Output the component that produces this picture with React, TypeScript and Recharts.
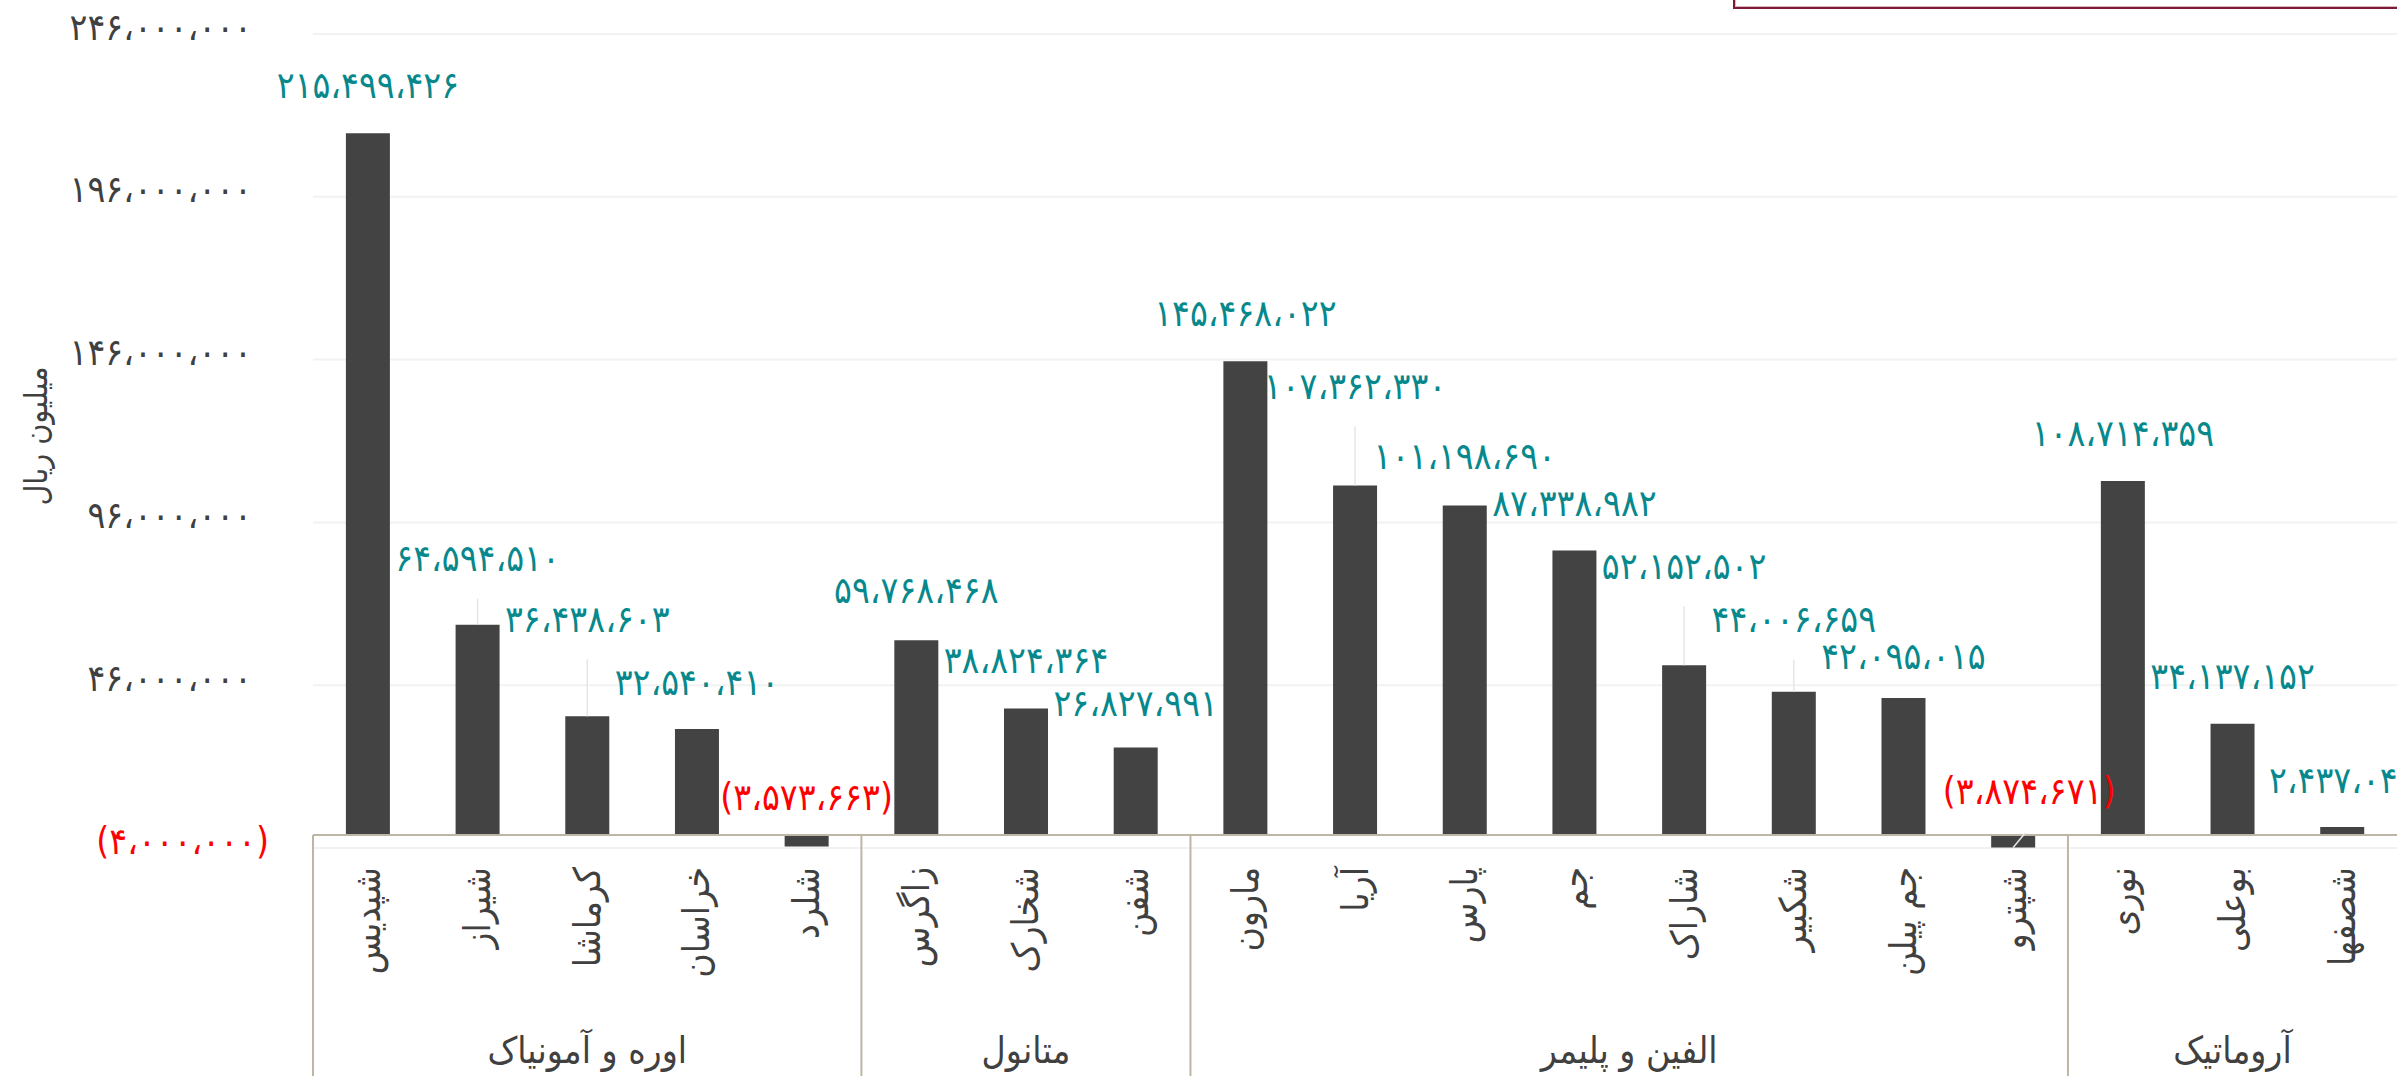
import React from 'react';
import { BarChart, Bar, XAxis, YAxis, CartesianGrid, LabelList, ReferenceLine } from 'recharts';

// ---------- data ----------
const names = ['شپدیس', 'شیراز', 'کرماشا', 'خراسان', 'شلرد', 'زاگرس', 'شخارک', 'شفن', 'مارون', 'آریا', 'پارس', 'جم', 'شاراک', 'شکبیر', 'جم پیلن', 'شپترو', 'نوری', 'بوعلی', 'شصفها'];
const values = [215499426, 64594510, 36438603, 32540410, -3573663, 59768468, 38824364, 26827991, 145468022, 107362330, 101198690, 87338982, 52152502, 44006659, 42095015, -3874671, 108714359, 34137152, 2437045];
const groupNames = ['اوره و آمونیاک', 'متانول', 'الفین و پلیمر', 'آروماتیک'];
const groupSizes = [5, 3, 8, 3];
const yTicks = [-4000000, 46000000, 96000000, 146000000, 196000000, 246000000];
const yTitle = 'میلیون ریال';
// label placement (px) per bar: distance above bar top, and sideways shift
const labelGap = [48, 66, 97, 47, 37, 50, 48, 44, 48, 99, 49, 47, 99, 72, 41, 43, 48, 47, 47];
const labelShift = [0, 0, 0, 0, 0, 0, 0, 0, 0, 0, 0, 0, 0, 0, 0, 16, 0, 0, 0];

const data = names.map((name, i) => ({ name, value: values[i] }));

// ---------- layout ----------
const W = 2397;
const H = 1076;
const Y_W = 313;
const TOP = 34;
const X_H = 228;
const PLOT_W = W - Y_W;
const PLOT_H = H - TOP - X_H;
const BAND = PLOT_W / names.length;
const Y_MIN = -4000000;
const Y_MAX = 246000000;
const ZERO_OFF = (PLOT_H * (0 - Y_MIN)) / (Y_MAX - Y_MIN);

const FONT = "'DejaVu Sans Condensed', 'DejaVu Sans', sans-serif";
const TEXT = '#404040';
const TEAL = '#06888c';
const RED = '#ff0000';
const LINE = '#bdb5a6';

const fa = (n: number) => {
  const s = Math.abs(n)
    .toLocaleString('en-US')
    .replace(/\d/g, (d) => '۰۱۲۳۴۵۶۷۸۹'[+d])
    .replace(/,/g, '،');
  return n < 0 ? `(${s})` : s;
};

const groupStart: number[] = [];
{
  let acc = 0;
  groupSizes.forEach((s) => {
    groupStart.push(acc);
    acc += s;
  });
}

const YTick = (props: any) => {
  const { y, payload } = props;
  const v = payload.value as number;
  return (
    <text x={v < 0 ? Y_W - 44 : Y_W - 61} y={y - 7} textAnchor="end" dominantBaseline="central" fontFamily={FONT} fontSize={37} fill={v < 0 ? RED : TEXT}>
      {fa(v)}
    </text>
  );
};

const XTick = (props: any) => {
  const { x, y, payload } = props;
  const i = names.indexOf(payload.value);
  const g = groupStart.indexOf(i);
  const zeroY = y - ZERO_OFF;
  return (
    <g>
      <text
        transform={`translate(${x},${y + 19}) rotate(-90)`}
        textAnchor="end"
        dominantBaseline="central"
        fontFamily={FONT}
        fontSize={37}
        fill={TEXT}
      >
        {payload.value}
      </text>
      {g >= 0 && (
        <g>
          <line x1={x - BAND / 2} x2={x - BAND / 2} y1={zeroY} y2={H} stroke={LINE} strokeWidth={2} />
          <text
            x={x - BAND / 2 + (groupSizes[g] * BAND) / 2}
            y={y + 202}
            textAnchor="middle"
            dominantBaseline="central"
            fontFamily={FONT}
            fontSize={37}
            fill={TEXT}
          >
            {groupNames[g]}
          </text>
        </g>
      )}
    </g>
  );
};

const BarLabel = (props: any) => {
  const { x, y, width, height, value, index } = props;
  const top = Math.min(y, y + height);
  const bottom = Math.max(y, y + height);
  const gap = labelGap[index];
  const shift = labelShift[index];
  const cx = x + width / 2;
  const ly = top - gap;
  return (
    <g>
      {gap > 55 && <line x1={cx} x2={cx} y1={top} y2={ly + 40} stroke="#e6e6e6" strokeWidth={1.5} />}
      {shift !== 0 && <line x1={cx} x2={cx + shift * 0.75} y1={bottom} y2={top - 2} stroke="#e8e8e8" strokeWidth={1.5} />}
      <text x={cx + shift} y={ly} textAnchor="middle" dominantBaseline="central" fontFamily={FONT} fontSize={37} fill={value < 0 ? RED : TEAL}>
        {fa(value)}
      </text>
    </g>
  );
};

export default function App() {
  return (
    <div style={{ position: 'absolute', left: 0, top: 0, width: W, height: H, overflow: 'hidden', background: '#fff' }}>
      <BarChart width={W} height={H} data={data} margin={{ top: TOP, right: 0, bottom: 0, left: 0 }} barCategoryGap="30%">
        <CartesianGrid vertical={false} stroke="#f2f2f2" strokeWidth={2} />
        <YAxis
          width={Y_W}
          domain={[Y_MIN, Y_MAX]}
          ticks={yTicks}
          interval={0}
          axisLine={false}
          tickLine={false}
          tick={<YTick />}
          type="number"
          allowDataOverflow
        />
        <XAxis dataKey="name" height={X_H} interval={0} axisLine={false} tickLine={false} tickSize={0} tickMargin={0} tick={<XTick />} />
        <ReferenceLine y={0} stroke={LINE} strokeWidth={2} />
        <Bar dataKey="value" fill="#434343" isAnimationActive={false}>
          <LabelList dataKey="value" content={<BarLabel />} />
        </Bar>
      </BarChart>
      <div
        style={{
          position: 'absolute',
          left: 36,
          top: 436,
          transform: 'translate(-50%, -50%) rotate(-90deg)',
          fontFamily: FONT,
          fontSize: 32,
          color: TEXT,
          whiteSpace: 'nowrap',
        }}
      >
        {yTitle}
      </div>
      <div
        style={{
          position: 'absolute',
          left: 1733,
          top: -60,
          width: 800,
          height: 65,
          border: '2px solid #7d1a35',
          boxShadow: 'inset 0 0 0 1px #d9b8c0',
        }}
      />
    </div>
  );
}
